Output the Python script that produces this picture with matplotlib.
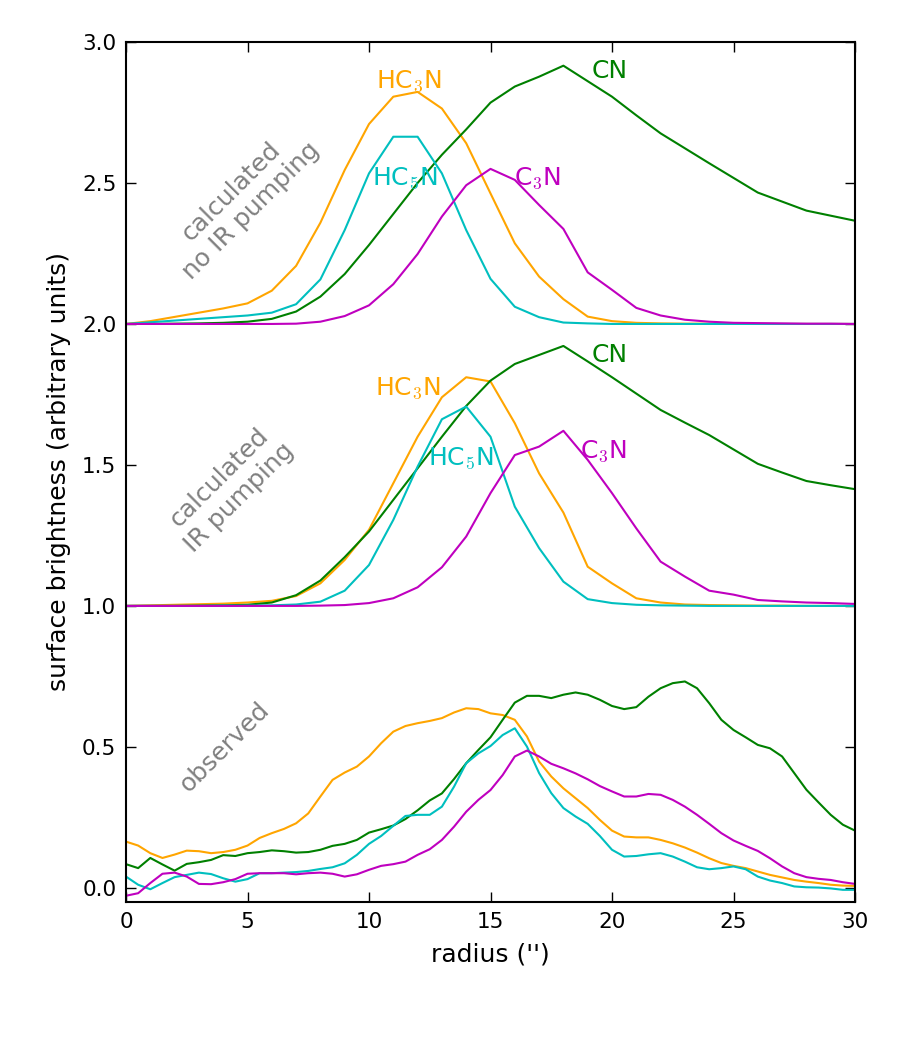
import matplotlib
matplotlib.use("Agg")
import matplotlib.pyplot as plt

# calculated profiles, sampled every 1 arcsec
radius_calc = list(range(31))

noir_hc3n = [0.0, 0.01, 0.025, 0.04, 0.055, 0.073, 0.118, 0.206, 0.359, 0.546, 0.709, 0.806,
             0.823, 0.764, 0.641, 0.463, 0.286, 0.168, 0.088, 0.026, 0.01, 0.004, 0.002, 0.001,
             0.001, 0.0, 0.0, 0.0, 0.0, 0.0, 0.0]
noir_hc5n = [0.0, 0.006, 0.012, 0.018, 0.024, 0.030, 0.040, 0.070, 0.158, 0.333, 0.534, 0.664,
             0.664, 0.534, 0.333, 0.16, 0.061, 0.024, 0.005, 0.002, 0.0, 0.0, 0.0, 0.0,
             0.0, 0.0, 0.0, 0.0, 0.0, 0.0, 0.0]
noir_cn = [0.0, 0.0, 0.001, 0.002, 0.004, 0.008, 0.018, 0.044, 0.097, 0.177, 0.28, 0.39,
           0.50, 0.60, 0.69, 0.785, 0.842, 0.877, 0.916, 0.861, 0.806, 0.74, 0.676, 0.623,
           0.570, 0.518, 0.466, 0.434, 0.402, 0.384, 0.366]
noir_c3n = [0.0, 0.0, 0.0, 0.0, 0.0, 0.0, 0.0, 0.001, 0.008, 0.028, 0.066, 0.141,
            0.248, 0.381, 0.492, 0.550, 0.511, 0.422, 0.337, 0.183, 0.121, 0.057, 0.03, 0.015,
            0.008, 0.004, 0.003, 0.002, 0.001, 0.001, 0.0]

ir_hc3n = [0.0, 0.002, 0.004, 0.006, 0.008, 0.012, 0.018, 0.035, 0.080, 0.163, 0.27, 0.435,
           0.600, 0.740, 0.811, 0.796, 0.648, 0.470, 0.331, 0.139, 0.08, 0.027, 0.012, 0.005,
           0.003, 0.002, 0.001, 0.001, 0.0, 0.0, 0.0]
ir_hc5n = [0.0, 0.0, 0.0, 0.0, 0.001, 0.001, 0.002, 0.005, 0.015, 0.054, 0.145, 0.305,
           0.494, 0.662, 0.707, 0.600, 0.352, 0.205, 0.086, 0.024, 0.01, 0.004, 0.002, 0.001,
           0.0, 0.0, 0.0, 0.0, 0.0, 0.0, 0.0]
ir_cn = [0.0, 0.0, 0.0, 0.001, 0.002, 0.004, 0.012, 0.038, 0.090, 0.173, 0.264, 0.376,
         0.488, 0.60, 0.709, 0.799, 0.858, 0.89, 0.922, 0.867, 0.811, 0.753, 0.695, 0.65,
         0.606, 0.555, 0.504, 0.473, 0.443, 0.428, 0.414]
ir_c3n = [0.0, 0.0, 0.0, 0.0, 0.0, 0.0, 0.0, 0.0, 0.001, 0.003, 0.01, 0.027,
          0.066, 0.137, 0.246, 0.40, 0.535, 0.565, 0.621, 0.518, 0.40, 0.275, 0.157, 0.104,
          0.054, 0.04, 0.021, 0.016, 0.012, 0.01, 0.007]

# observed profiles, sampled every 0.5 arcsec
radius_obs = [i * 0.5 for i in range(61)]

obs_hc3n = [0.164, 0.15, 0.123, 0.106, 0.118, 0.132, 0.13, 0.123, 0.127, 0.135,
            0.15, 0.177, 0.194, 0.209, 0.229, 0.264, 0.324, 0.383, 0.409, 0.43,
            0.466, 0.513, 0.554, 0.574, 0.584, 0.592, 0.602, 0.622, 0.637, 0.634,
            0.619, 0.613, 0.596, 0.537, 0.448, 0.395, 0.353, 0.318, 0.283, 0.241,
            0.203, 0.182, 0.179, 0.179, 0.17, 0.158, 0.143, 0.125, 0.105, 0.088,
            0.078, 0.07, 0.058, 0.046, 0.037, 0.028, 0.022, 0.017, 0.011, 0.008,
            0.007]
obs_cn = [0.084, 0.07, 0.106, 0.083, 0.061, 0.085, 0.091, 0.099, 0.116, 0.113,
          0.123, 0.127, 0.133, 0.13, 0.125, 0.127, 0.135, 0.149, 0.156, 0.17,
          0.196, 0.208, 0.221, 0.244, 0.275, 0.31, 0.335, 0.386, 0.442, 0.489,
          0.534, 0.596, 0.657, 0.681, 0.681, 0.673, 0.685, 0.693, 0.685, 0.667,
          0.645, 0.634, 0.641, 0.678, 0.708, 0.726, 0.732, 0.708, 0.655, 0.596,
          0.560, 0.534, 0.507, 0.495, 0.466, 0.407, 0.348, 0.303, 0.259, 0.224,
          0.203]
obs_hc5n = [0.04, 0.011, -0.005, 0.017, 0.038, 0.046, 0.054, 0.049, 0.034, 0.022,
            0.031, 0.052, 0.052, 0.054, 0.056, 0.06, 0.067, 0.073, 0.087, 0.117,
            0.156, 0.184, 0.22, 0.255, 0.259, 0.259, 0.288, 0.359, 0.442, 0.477,
            0.503, 0.542, 0.566, 0.501, 0.407, 0.336, 0.283, 0.253, 0.227, 0.184,
            0.135, 0.111, 0.113, 0.119, 0.123, 0.111, 0.093, 0.073, 0.066, 0.07,
            0.076, 0.066, 0.04, 0.026, 0.017, 0.005, 0.002, 0.001, -0.002, -0.007,
            -0.007]
obs_c3n = [-0.028, -0.019, 0.017, 0.05, 0.054, 0.04, 0.014, 0.013, 0.02, 0.031,
           0.05, 0.052, 0.052, 0.052, 0.048, 0.052, 0.054, 0.05, 0.04, 0.048,
           0.064, 0.078, 0.084, 0.093, 0.117, 0.137, 0.17, 0.217, 0.27, 0.312,
           0.347, 0.40, 0.466, 0.487, 0.466, 0.44, 0.424, 0.406, 0.385, 0.361,
           0.342, 0.324, 0.324, 0.333, 0.33, 0.312, 0.288, 0.259, 0.227, 0.194,
           0.168, 0.149, 0.131, 0.105, 0.076, 0.052, 0.038, 0.032, 0.028, 0.02,
           0.014]

plt.rcParams['mathtext.fontset'] = 'cm'

fig = plt.figure(figsize=(9, 10.5), dpi=100)
ax = fig.add_axes([0.14, 0.141, 0.81, 0.819])

lw = 1.5
# observed (offset 0), calculated with IR pumping (offset 1), without (offset 2)
ax.plot(radius_obs, obs_hc3n, color='orange', lw=lw)
ax.plot(radius_obs, obs_cn, color='g', lw=lw)
ax.plot(radius_obs, obs_hc5n, color='c', lw=lw)
ax.plot(radius_obs, obs_c3n, color='m', lw=lw)

ax.plot(radius_calc, [v + 1 for v in ir_hc3n], color='orange', lw=lw)
ax.plot(radius_calc, [v + 1 for v in ir_cn], color='g', lw=lw)
ax.plot(radius_calc, [v + 1 for v in ir_hc5n], color='c', lw=lw)
ax.plot(radius_calc, [v + 1 for v in ir_c3n], color='m', lw=lw)

ax.plot(radius_calc, [v + 2 for v in noir_hc3n], color='orange', lw=lw)
ax.plot(radius_calc, [v + 2 for v in noir_cn], color='g', lw=lw)
ax.plot(radius_calc, [v + 2 for v in noir_hc5n], color='c', lw=lw)
ax.plot(radius_calc, [v + 2 for v in noir_c3n], color='m', lw=lw)

fs = 18
ax.text(11.64, 2.839, 'HC$_3$N', color='orange', fontsize=fs, ha='center', va='baseline')
ax.text(19.92, 2.871, 'CN', color='g', fontsize=fs, ha='center', va='baseline')
ax.text(11.48, 2.493, 'HC$_5$N', color='c', fontsize=fs, ha='center', va='baseline')
ax.text(16.95, 2.493, 'C$_3$N', color='m', fontsize=fs, ha='center', va='baseline')

ax.text(11.6, 1.748, 'HC$_3$N', color='orange', fontsize=fs, ha='center', va='baseline')
ax.text(19.92, 1.865, 'CN', color='g', fontsize=fs, ha='center', va='baseline')
ax.text(13.79, 1.50, 'HC$_5$N', color='c', fontsize=fs, ha='center', va='baseline')
ax.text(19.67, 1.524, 'C$_3$N', color='m', fontsize=fs, ha='center', va='baseline')

ax.text(4.75, 2.435, 'calculated\nno IR pumping', color='gray', fontsize=fs, rotation=45,
        ha='center', va='center', multialignment='center')
ax.text(4.25, 1.42, 'calculated\nIR pumping', color='gray', fontsize=fs, rotation=45,
        ha='center', va='center', multialignment='center')
ax.text(4.05, 0.498, 'observed', color='gray', fontsize=fs, rotation=45,
        ha='center', va='center')

ax.set_xlim(0, 30)
ax.set_ylim(-0.05, 3.0)
ax.set_xticks([0, 5, 10, 15, 20, 25, 30])
ax.set_yticks([0.0, 0.5, 1.0, 1.5, 2.0, 2.5, 3.0])
ax.tick_params(direction='in', length=7, width=1, top=True, right=True,
               labelsize=15.5, pad=7)
for sp in ax.spines.values():
    sp.set_linewidth(1.5)

ax.set_xlabel("radius ('')", fontsize=fs, labelpad=8)
ax.set_ylabel('surface brightness (arbitrary units)', fontsize=fs, labelpad=8)

fig.savefig('out.png', dpi=100)
